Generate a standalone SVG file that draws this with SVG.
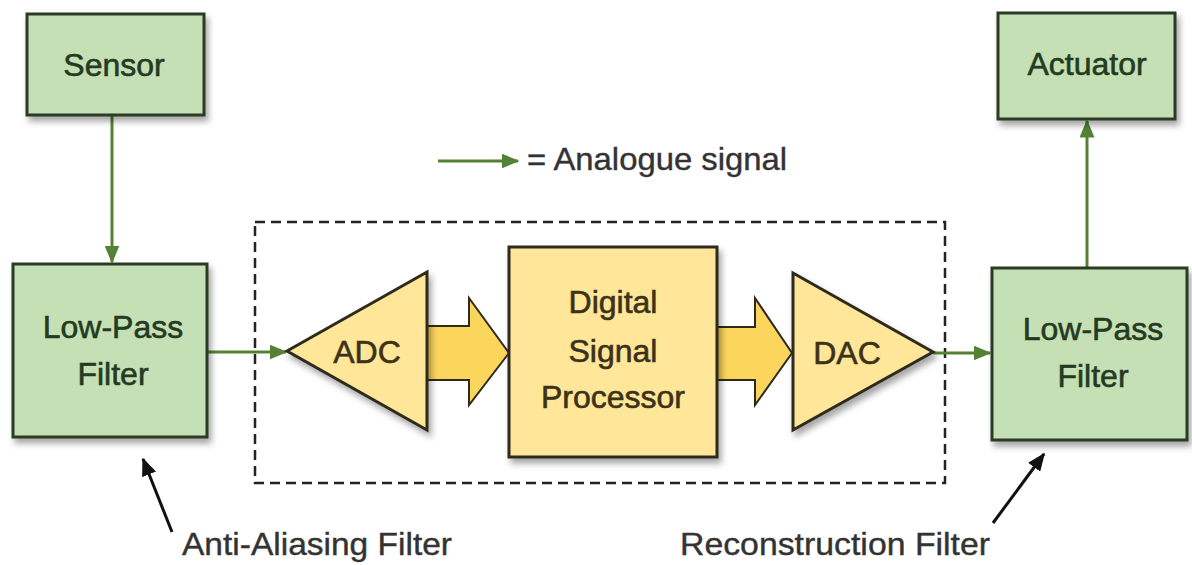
<svg xmlns="http://www.w3.org/2000/svg" width="1192" height="565" viewBox="0 0 1192 565">
<defs>
<filter id="sh" x="-10%" y="-10%" width="130%" height="130%">
<feDropShadow dx="3" dy="5" stdDeviation="3" flood-color="#000" flood-opacity="0.35"/>
</filter>
<marker id="ga" viewBox="0 0 12 10" refX="11" refY="5" markerWidth="6" markerHeight="5" orient="auto" markerUnits="strokeWidth">
<path d="M0,0 L12,5 L0,10 z" fill="#548235"/>
</marker>
<marker id="ka" viewBox="0 0 12 10" refX="11" refY="5" markerWidth="6" markerHeight="5" orient="auto" markerUnits="strokeWidth">
<path d="M0,0 L12,5 L0,10 z" fill="#111"/>
</marker>
</defs>
<style>
.gbox{fill:#c5e0b4;stroke:#2b3a27;stroke-width:3;filter:url(#sh)}
.ybox{fill:#ffe699;stroke:#2e2a1c;stroke-width:3;filter:url(#sh)}
.fat{fill:#fcd55c;stroke:#2e2a1c;stroke-width:2}
.gt{font-family:"Liberation Sans",Arial,sans-serif;font-size:32px;fill:#243a22;stroke:#243a22;stroke-width:0.6;text-anchor:middle}
.yt{font-family:"Liberation Sans",Arial,sans-serif;font-size:32px;fill:#3b3218;stroke:#3b3218;stroke-width:0.6;text-anchor:middle}
.lbl{font-family:"Liberation Sans",Arial,sans-serif;font-size:32px;fill:#333;stroke:#333;stroke-width:0.4}
.garrow{stroke:#548235;stroke-width:3;fill:none;marker-end:url(#ga)}
.karrow{stroke:#111;stroke-width:3;fill:none;marker-end:url(#ka)}
.dash{fill:none;stroke:#222;stroke-width:2.5;stroke-dasharray:10,6}
</style>
<rect width="1192" height="565" fill="#fff"/>
<rect id="dsp-boundary" class="dash" x="255" y="222" width="690" height="261"/>
<g id="connectors">
<line class="garrow" x1="112" y1="115" x2="112" y2="262"/>
<line class="garrow" x1="207" y1="352" x2="286" y2="352"/>
<line class="garrow" x1="933" y1="353" x2="990" y2="353"/>
<line class="garrow" x1="1087" y1="268" x2="1087" y2="121"/>
<line class="garrow" x1="438" y1="161" x2="518" y2="161"/>
<line class="karrow" x1="172" y1="532" x2="143" y2="459"/>
<line class="karrow" x1="993" y1="523" x2="1044" y2="454"/>
<path id="fat1" class="fat" d="M427,326 L469,326 L469,298 L509,353 L469,405 L469,380 L427,380 Z"/>
<path id="fat2" class="fat" d="M717,327 L755,327 L755,298 L792,353 L755,405 L755,380 L717,380 Z"/>
</g>
<g id="sensor">
<rect class="gbox" x="27" y="14" width="177" height="101"/>
<text class="gt" x="114" y="76">Sensor</text>
</g>
<g id="lpf-left">
<rect class="gbox" x="13" y="264" width="194" height="173"/>
<text class="gt" x="113" y="338">Low-Pass</text>
<text class="gt" x="113" y="385">Filter</text>
</g>
<g id="adc">
<polygon class="ybox" points="287,351 427,272 427,430"/>
<text class="yt" x="367" y="363">ADC</text>
</g>
<g id="dsp">
<rect class="ybox" x="509" y="247" width="208" height="210"/>
<text class="yt" x="613" y="313">Digital</text>
<text class="yt" x="613" y="362">Signal</text>
<text class="yt" x="613" y="408">Processor</text>
</g>
<g id="dac">
<polygon class="ybox" points="793,273 933,352 793,430"/>
<text class="yt" x="847" y="364">DAC</text>
</g>
<g id="lpf-right">
<rect class="gbox" x="992" y="268" width="195" height="172"/>
<text class="gt" x="1093" y="340">Low-Pass</text>
<text class="gt" x="1093" y="387">Filter</text>
</g>
<g id="actuator">
<rect class="gbox" x="998" y="13" width="177" height="106"/>
<text class="gt" x="1087" y="75">Actuator</text>
</g>
<g id="labels">
<text class="lbl" x="527" y="170" textLength="260" lengthAdjust="spacingAndGlyphs">= Analogue signal</text>
<text class="lbl" x="182" y="555" textLength="270" lengthAdjust="spacingAndGlyphs">Anti-Aliasing Filter</text>
<text class="lbl" x="680" y="555" textLength="310" lengthAdjust="spacingAndGlyphs">Reconstruction Filter</text>
</g>
</svg>
